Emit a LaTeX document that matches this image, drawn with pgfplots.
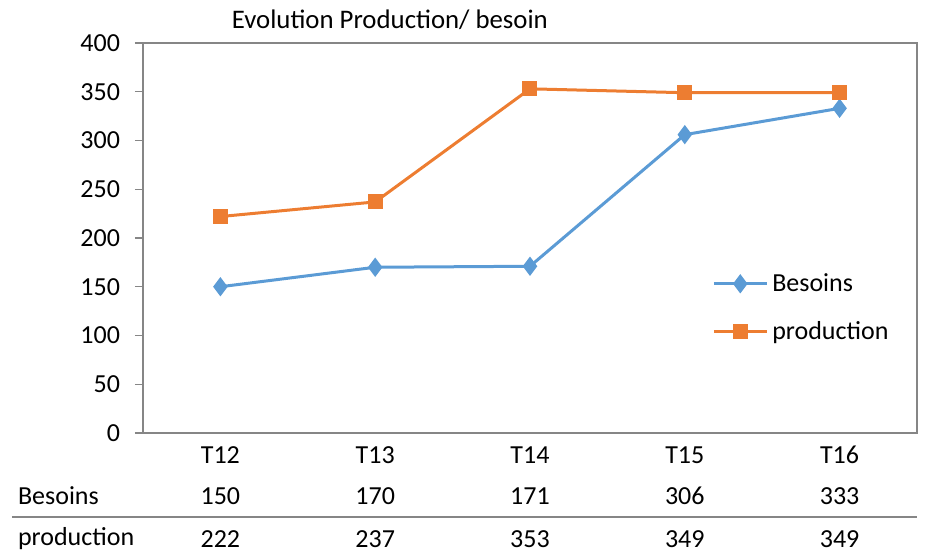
\documentclass[border=0pt]{standalone}
\usepackage{fontspec}
\setmainfont{Carlito}
\usepackage{pgfplots}
\pgfplotsset{compat=1.18}
\definecolor{cblue}{HTML}{5B9BD5}
\definecolor{corange}{HTML}{ED7D31}
\definecolor{axgray}{HTML}{868686}
\newcommand{\tf}{\fontsize{13}{15}\selectfont}
\begin{document}
\begin{tikzpicture}
\path (0,0) rectangle (463pt,275pt);
\begin{axis}[
  at={(71.5pt,58.5pt)}, anchor=south west,
  scale only axis, width=387pt, height=195pt,
  xmin=-0.5, xmax=4.5, ymin=0, ymax=400,
  ytick={0,50,...,400},
  xtick={0,1,2,3,4},
  xticklabels={T12,T13,T14,T15,T16},
  major x tick style={draw=none},
  xticklabel style={anchor=center, yshift=-7pt},
  tick align=outside, major tick length=4pt,
  ytick pos=left, xtick pos=bottom,
  axis line style={axgray, line width=0.7pt},
  every tick/.style={axgray, line width=0.7pt},
  yticklabel style={xshift=-4pt},
  /pgf/number format/assume math mode=true,
  tick label style={font=\tf},
  legend style={draw=none, fill=none, at={(0.735,0.321)}, anchor=west,
    font=\tf, row sep=9.5pt, inner sep=0pt,
    /tikz/every even column/.append style={column sep=2pt}},
  legend cell align=left,
  legend image code/.code={\draw[mark repeat=2,mark phase=2] plot coordinates {(0pt,0pt)(13.25pt,0pt)(26.5pt,0pt)};},
  clip=false,
]
\addplot[cblue, line width=1.5pt, mark=diamond*, mark size=3.6pt, mark options={solid, fill=cblue}]
  coordinates {(0,150)(1,170)(2,171)(3,306)(4,333)};
\addlegendentry{Besoins}
\addplot[corange, line width=1.5pt, mark=square*, mark size=3pt, mark options={solid, fill=corange}]
  coordinates {(0,222)(1,237)(2,353)(3,349)(4,349)};
\addlegendentry{production}
% data table
\node[font=\tf] at ([yshift=-31.5pt]axis cs:0,0) {150};
\node[font=\tf] at ([yshift=-31.5pt]axis cs:1,0) {170};
\node[font=\tf] at ([yshift=-31.5pt]axis cs:2,0) {171};
\node[font=\tf] at ([yshift=-31.5pt]axis cs:3,0) {306};
\node[font=\tf] at ([yshift=-31.5pt]axis cs:4,0) {333};
\node[font=\tf] at ([yshift=-53pt]axis cs:0,0) {222};
\node[font=\tf] at ([yshift=-53pt]axis cs:1,0) {237};
\node[font=\tf] at ([yshift=-53pt]axis cs:2,0) {353};
\node[font=\tf] at ([yshift=-53pt]axis cs:3,0) {349};
\node[font=\tf] at ([yshift=-53pt]axis cs:4,0) {349};
\node[font=\tf, anchor=west] at ([xshift=-66pt,yshift=-31.5pt]rel axis cs:0,0) {Besoins};
\node[font=\tf, anchor=west] at ([xshift=-66pt,yshift=-53pt]rel axis cs:0,0) {production};
\draw[axgray, line width=0.7pt] ([xshift=-65.5pt,yshift=-42pt]rel axis cs:0,0) -- ([yshift=-42pt]rel axis cs:1,0);
\node[font=\fontsize{13.4}{15}\selectfont] at ([yshift=11.5pt]rel axis cs:0.319,1) {Evolution Production/ besoin};
\end{axis}
\end{tikzpicture}
\end{document}
